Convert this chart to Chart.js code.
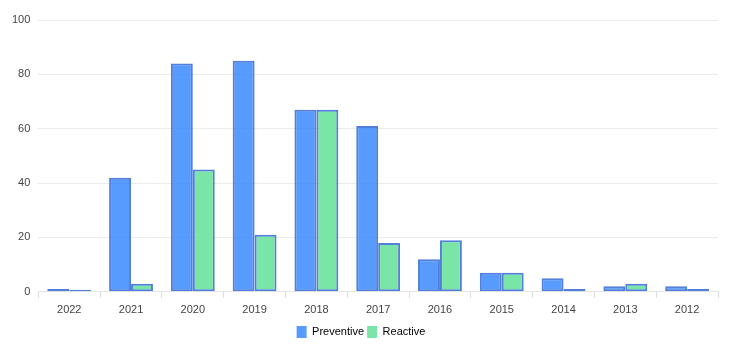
<!DOCTYPE html>
<html>
<head>
<meta charset="utf-8">
<script src="https://cdn.jsdelivr.net/npm/chart.js@4"></script>
<style>
  html, body { margin: 0; padding: 0; background: #fff; }
  #wrap { width: 742px; height: 348px; }
</style>
</head>
<body>
<div id="wrap"><canvas id="chart"></canvas></div>
<script>
// Chart data
const years = ["2022", "2021", "2020", "2019", "2018", "2017", "2016", "2015", "2014", "2013", "2012"];
const preventive = [1, 42, 84, 85, 67, 61, 12, 7, 5, 2, 2];
const reactive = [0, 3, 45, 21, 67, 18, 19, 7, 1, 3, 1];
const yTicks = [0, 20, 40, 60, 80, 100];

const blueFill = "rgba(51, 133, 255, 0.82)";
const greenFill = "rgba(110, 228, 160, 0.92)";
const edge = "rgba(52, 104, 214, 0.85)";

Chart.defaults.font.family = "'Liberation Sans', Arial, sans-serif";
Chart.defaults.font.size = 11;
Chart.defaults.color = "#444";

new Chart(document.getElementById("chart"), {
  type: "bar",
  data: {
    labels: years,
    datasets: [
      { label: "Preventive", data: preventive, backgroundColor: blueFill, borderColor: edge, borderWidth: 2, borderSkipped: false },
      { label: "Reactive", data: reactive, backgroundColor: greenFill, borderColor: edge, borderWidth: 2, borderSkipped: false, minBarLength: 2 }
    ]
  },
  options: {
    responsive: true,
    maintainAspectRatio: false,
    animation: false,
    datasets: { bar: { barPercentage: 1, categoryPercentage: 0.71 } },
    layout: { padding: { top: 20, right: 24, left: 4, bottom: 0 } },
    plugins: {
      legend: {
        position: "bottom",
        labels: {
          boxWidth: 10,
          boxHeight: 12,
          padding: 3,
          generateLabels: chart => chart.data.datasets.map((ds, i) => ({
            text: ds.label,
            fillStyle: ds.backgroundColor,
            strokeStyle: "rgba(0,0,0,0)",
            lineWidth: 0,
            datasetIndex: i
          }))
        }
      },
      tooltip: { enabled: false }
    },
    scales: {
      x: {
        grid: { drawOnChartArea: false, tickLength: 6, color: "#ddd" },
        border: { color: "#e6e6e6" },
        ticks: { padding: 6 }
      },
      y: {
        min: 0,
        max: 100,
        afterBuildTicks: axis => { axis.ticks = yTicks.map(v => ({ value: v })); },
        grid: { color: "#ececec", drawTicks: false },
        border: { display: false },
        ticks: { padding: 8 }
      }
    }
  }
});
</script>
</body>
</html>
